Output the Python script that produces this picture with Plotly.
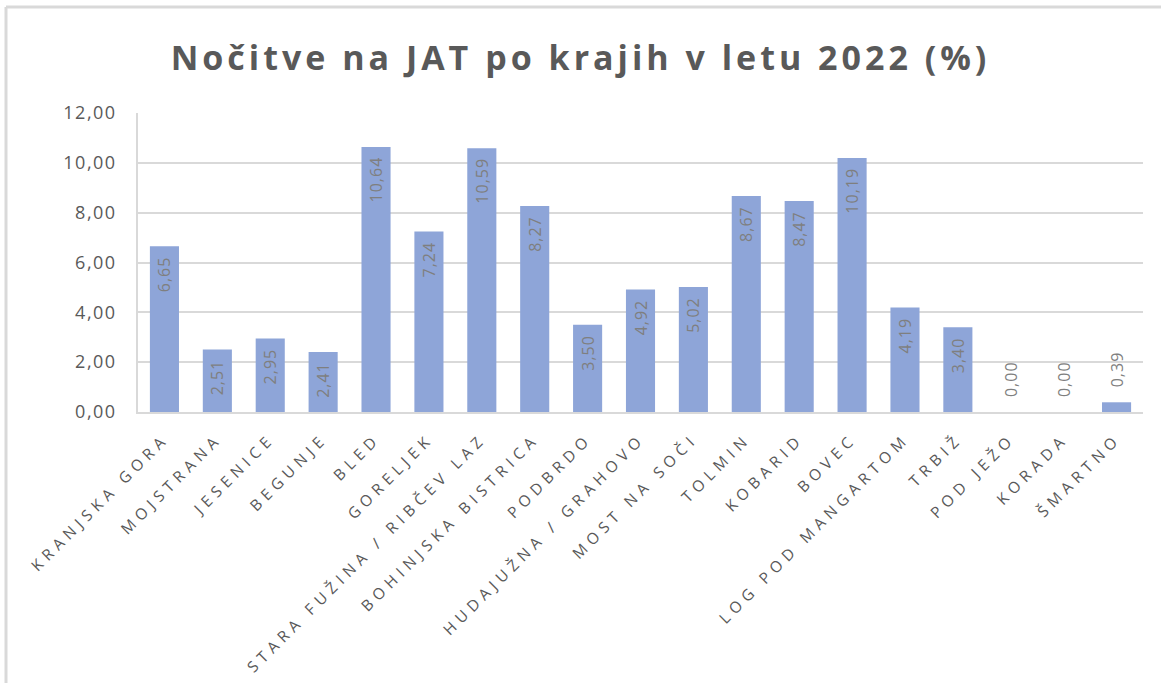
import plotly.graph_objects as go

categories = ["KRANJSKA GORA", "MOJSTRANA", "JESENICE", "BEGUNJE", "BLED", "GORELJEK",
              "STARA FUŽINA / RIBČEV LAZ", "BOHINJSKA BISTRICA", "PODBRDO",
              "HUDAJUŽNA / GRAHOVO", "MOST NA SOČI", "TOLMIN", "KOBARID", "BOVEC",
              "LOG POD MANGARTOM", "TRBIŽ", "POD JEŽO", "KORADA", "ŠMARTNO"]
values = [6.65, 2.51, 2.95, 2.41, 10.64, 7.24, 10.59, 8.27, 3.50, 4.92, 5.02,
          8.67, 8.47, 10.19, 4.19, 3.40, 0.00, 0.00, 0.39]
y_ticks = [0, 2, 4, 6, 8, 10, 12]
title_text = "Nočitve na JAT po krajih v letu 2022 (%)"

NB = "\u00a0"
text_pos = ["inside" if v > 1 else "outside" for v in values]
labels = []
for v, p in zip(values, text_pos):
    s = f"{v:.2f}".replace(".", ",")
    labels.append(s + NB * 2 if p == "inside" else NB * 3 + s)

fig = go.Figure(go.Bar(
    x=categories, y=values,
    marker=dict(color="#8EA5D8", line=dict(width=0)),
    width=0.55,
    text=labels,
    textposition=text_pos,
    insidetextanchor="end",
    textangle=-90,
    constraintext="none",
    cliponaxis=False,
    textfont=dict(family="Open Sans", size=16, color="#7F7F7F"),
    hoverinfo="x+y",
))

fig.update_layout(
    width=1161, height=683,
    paper_bgcolor="white", plot_bgcolor="white",
    separators=",.",
    margin=dict(l=138, r=18, t=113, b=271),
    showlegend=False,
    title=dict(text="<b>" + title_text + "</b>", x=0.5, xref="container", xanchor="center",
               y=1 - 58 / 683, yref="container", yanchor="middle",
               font=dict(family="Open Sans", size=34, color="#595959")),
    xaxis=dict(tickangle=-45, tickfont=dict(family="Open Sans", size=15.5, color="#595959"),
               showline=True, linecolor="#D9D9D9", linewidth=1.5, ticks="",
               showgrid=False, ticklabelstandoff=10),
    yaxis=dict(range=[0, 12], tickvals=y_ticks, tickformat=".2f",
               tickfont=dict(family="Open Sans", size=18, color="#595959"),
               showgrid=True, gridcolor="#D9D9D9", gridwidth=1.5,
               showline=True, linecolor="#D9D9D9", linewidth=1.5,
               zeroline=False, ticks="", ticklabelstandoff=16),
    shapes=[
        dict(type="line", xref="paper", yref="paper", x0=(6 - 138) / 1005, x1=(1161 - 138) / 1005,
             y0=(412 - 7) / 299, y1=(412 - 7) / 299, line=dict(color="#D9D9D9", width=3)),
        dict(type="line", xref="paper", yref="paper", x0=(6 - 138) / 1005, x1=(6 - 138) / 1005,
             y0=(412 - 7) / 299, y1=(412 - 690) / 299, line=dict(color="#D9D9D9", width=3)),
    ],
)

post = """
document.body.style.margin = '0';
var gd = document.querySelector('.plotly-graph-div');
function sp(sel, v){ gd.querySelectorAll(sel).forEach(function(t){ t.style.letterSpacing = v; }); }
sp('.xtick text', '5.2px');
sp('.ytick text', '1.5px');
sp('.gtitle', '4px');
sp('.bartext', '1px');
"""

fig.write_html("out.html", post_script=post, config={"displayModeBar": False})
